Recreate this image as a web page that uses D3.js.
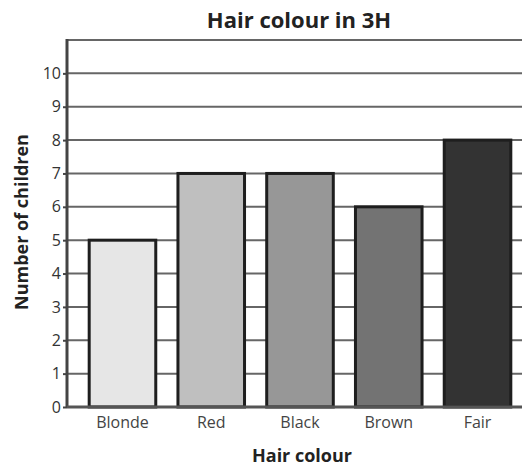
<!DOCTYPE html>
<html><head><meta charset="utf-8">
<script src="https://cdn.jsdelivr.net/npm/d3@7"></script>
<style>body{margin:0;background:#fff}svg{display:block}</style>
</head><body>
<svg id="c" width="522" height="466"></svg>
<script>
const categories = ["Blonde", "Red", "Black", "Brown", "Fair"];
const values = [5, 7, 7, 6, 8];
const fills = ["#e6e6e6", "#bfbfbf", "#979797", "#737373", "#333333"];
const yTicks = [0,1,2,3,4,5,6,7,8,9,10];
const title = "Hair colour in 3H";
const xTitle = "Hair colour";
const yTitle = "Number of children";

const W = 522, H = 466;
const svg = d3.select("#c");
const x0 = 67, yBottom = 407, yTop = 40;
const x = d3.scaleBand().domain(categories).range([x0, 533]).paddingInner(0.25).paddingOuter(0.25);
const y = d3.scaleLinear().domain([0, 11]).range([yBottom, yTop]);
const font = "'Open Sans', sans-serif";

// gridlines
svg.append("g").selectAll("line").data(yTicks.slice(1).concat([11])).join("line")
  .attr("x1", x0).attr("x2", W).attr("y1", d => y(d)).attr("y2", d => y(d))
  .attr("stroke", "#666").attr("stroke-width", 2);

// bars
svg.append("g").selectAll("rect").data(categories).join("rect")
  .attr("x", d => x(d)).attr("width", x.bandwidth())
  .attr("y", (d,i) => y(values[i])).attr("height", (d,i) => y(0) - y(values[i]))
  .attr("fill", (d,i) => fills[i]).attr("stroke", "#1e1e1e").attr("stroke-width", 3);

// axes lines
svg.append("line").attr("x1", x0).attr("x2", x0).attr("y1", yTop - 1).attr("y2", yBottom + 1)
  .attr("stroke", "#444").attr("stroke-width", 3);
svg.append("line").attr("x1", x0).attr("x2", W).attr("y1", yBottom).attr("y2", yBottom)
  .attr("stroke", "#555").attr("stroke-width", 3);

// y ticks
const ya = d3.axisLeft(y).tickValues(yTicks).tickSize(4).tickPadding(2);
const gy = svg.append("g").attr("transform", `translate(${x0},0)`).call(ya);
gy.select(".domain").remove();
gy.selectAll(".tick line").attr("stroke", "#444").attr("stroke-width", 2);
gy.selectAll("text").attr("font-family", font).attr("font-size", 16).attr("fill", "#333");

// x labels
const xa = d3.axisBottom(x).tickSize(0).tickPadding(10);
const gx = svg.append("g").attr("transform", `translate(0,${yBottom})`).call(xa);
gx.select(".domain").remove();
gx.selectAll("text").attr("font-family", font).attr("font-size", 16).attr("fill", "#444");

// titles
svg.append("text").attr("x", 299).attr("y", 28).attr("text-anchor", "middle")
  .attr("font-family", font).attr("font-weight", "bold").attr("font-size", 22).attr("fill", "#222").text(title);
svg.append("text").attr("x", 302).attr("y", 462).attr("text-anchor", "middle")
  .attr("font-family", font).attr("font-weight", "bold").attr("font-size", 18).attr("fill", "#222").text(xTitle);
svg.append("text").attr("transform", "translate(28,222) rotate(-90)").attr("text-anchor", "middle")
  .attr("font-family", font).attr("font-weight", "bold").attr("font-size", 18).attr("fill", "#222").text(yTitle);
</script>
</body></html>
